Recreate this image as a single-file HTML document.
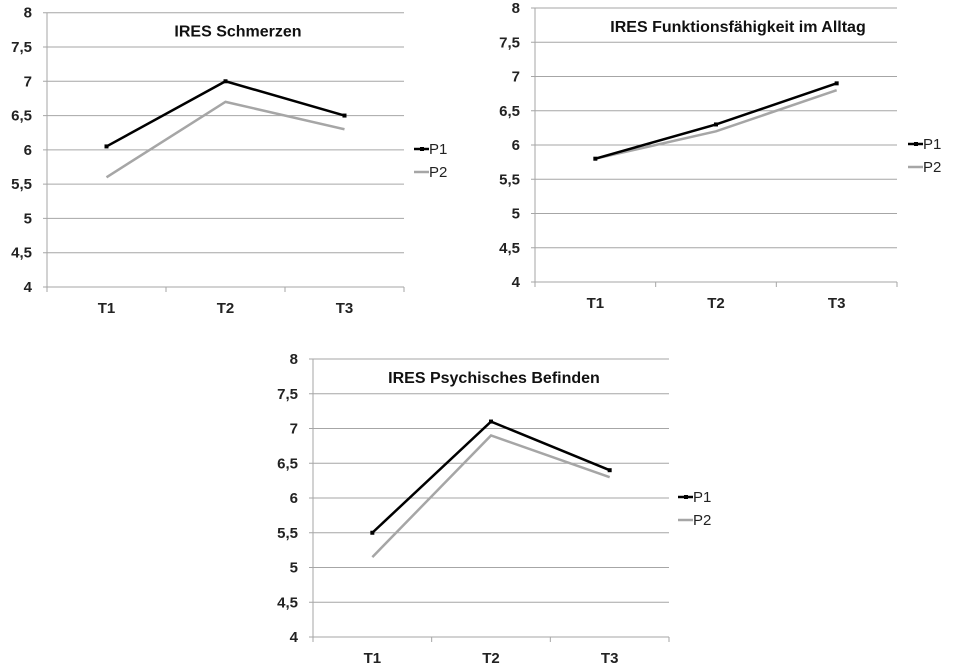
<!DOCTYPE html>
<html><head><meta charset="utf-8"><style>
body{margin:0;background:#fff;}
svg{display:block;font-family:"Liberation Sans",Arial,sans-serif;}
</style></head><body>
<svg id="s" width="960" height="667" viewBox="0 0 960 667"></svg>
<script>
const s=document.getElementById('s');let h='';
function chart(L,R,yTop,yBot,title,tx,p1,p2,lx,ly){
  const y=v=>yBot-(v-4)/4*(yBot-yTop);
  const labels=['4','4,5','5','5,5','6','6,5','7','7,5','8'];
  for(let i=0;i<9;i++){const v=4+i*0.5,yy=y(v);
    h+=`<line x1="${L-4}" x2="${R}" y1="${yy}" y2="${yy}" stroke="#a6a6a6" stroke-width="1"/>`;
    h+=`<text x="${L-15}" y="${yy+5}" text-anchor="end" font-size="15" font-weight="bold" fill="#222">${labels[i]}</text>`;}
  h+=`<line x1="${L}" x2="${L}" y1="${yTop}" y2="${yBot+5}" stroke="#a6a6a6"/>`;
  const w=(R-L)/3;
  for(let i=0;i<4;i++)h+=`<line x1="${L+i*w}" x2="${L+i*w}" y1="${yBot}" y2="${yBot+5}" stroke="#a6a6a6"/>`;
  ['T1','T2','T3'].forEach((t,i)=>h+=`<text x="${L+w*(i+.5)}" y="${yBot+26}" text-anchor="middle" font-size="15" font-weight="bold" fill="#222">${t}</text>`);
  h+=`<text x="${tx}" y="${yTop+24}" text-anchor="middle" font-size="16" font-weight="bold" fill="#111">${title}</text>`;
  const pts=a=>a.map((v,i)=>`${L+w*(i+.5)},${y(v)}`).join(' ');
  h+=`<polyline points="${pts(p2)}" fill="none" stroke="#a6a6a6" stroke-width="2.5"/>`;
  h+=`<polyline points="${pts(p1)}" fill="none" stroke="#000" stroke-width="2.5"/>`;
  p1.forEach((v,i)=>h+=`<rect x="${L+w*(i+.5)-2}" y="${y(v)-2}" width="4" height="4" fill="#000"/>`);
  h+=`<line x1="${lx}" x2="${lx+15}" y1="${ly}" y2="${ly}" stroke="#000" stroke-width="2.5"/><rect x="${lx+6}" y="${ly-2}" width="4" height="4"/>`;
  h+=`<text x="${lx+15}" y="${ly+5}" font-size="15" fill="#222">P1</text>`;
  h+=`<line x1="${lx}" x2="${lx+15}" y1="${ly+23}" y2="${ly+23}" stroke="#a6a6a6" stroke-width="2.5"/>`;
  h+=`<text x="${lx+15}" y="${ly+28}" font-size="15" fill="#222">P2</text>`;
}
chart(47,404,12.7,287,'IRES Schmerzen',238,[6.05,7,6.5],[5.6,6.7,6.3],414,149);
chart(535,897,8,282,'IRES Funktionsfähigkeit im Alltag',738,[5.8,6.3,6.9],[5.8,6.2,6.8],908,144);
chart(313,669,359,637,'IRES Psychisches Befinden',494,[5.5,7.1,6.4],[5.15,6.9,6.3],678,497);
s.innerHTML=h;
</script>
</body></html>
